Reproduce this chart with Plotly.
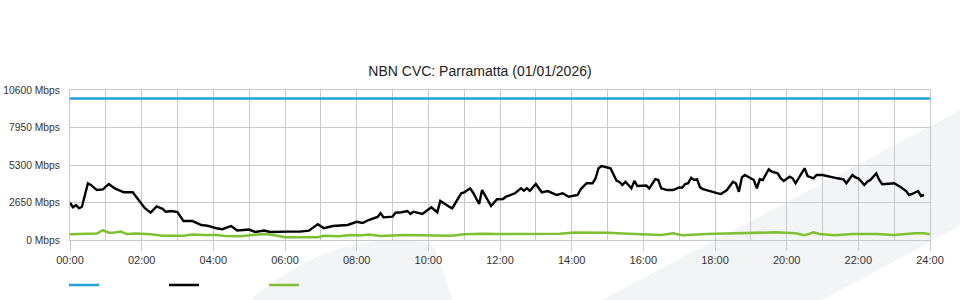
import plotly.graph_objects as go

# ---- data -------------------------------------------------------------
title_text = "NBN CVC: Parramatta (01/01/2026)"
y_ticks = [0, 2650, 5300, 7950, 10600]
x_tick_hours = list(range(0, 25, 2))
x_tick_labels = ["%02d:00" % h for h in x_tick_hours]

capacity_times = ["00:00", "24:00"]
capacity_values = [10000, 10000]

black_times = [
    "00:00", "00:05", "00:10", "00:15", "00:20", "00:30", "00:35", "00:45", "00:55", "01:05",
    "01:15", "01:25", "01:30", "01:45", "01:55", "02:05", "02:15", "02:25", "02:35", "02:40",
    "02:50", "03:00", "03:10", "03:25", "03:40", "03:50", "04:05", "04:15", "04:30", "04:40",
    "05:00", "05:10", "05:25", "05:35", "06:05", "06:25", "06:40", "06:55", "07:05", "07:20",
    "07:45", "08:00", "08:10", "08:20", "08:35", "08:40", "08:45", "09:00", "09:05", "09:15",
    "09:25", "09:30", "09:35", "09:50", "09:55", "10:05", "10:15", "10:20", "10:35", "10:40",
    "10:55", "11:00", "11:10", "11:15", "11:25", "11:30", "11:45", "11:55", "12:05", "12:10",
    "12:15", "12:25", "12:35", "12:40", "12:45", "12:50", "13:00", "13:10", "13:20", "13:35",
    "13:45", "13:55", "14:10", "14:15", "14:25", "14:35", "14:40", "14:45", "14:50", "15:00",
    "15:05", "15:15", "15:20", "15:25", "15:30", "15:40", "15:45", "15:50", "16:05", "16:10",
    "16:20", "16:25", "16:30", "16:40", "16:50", "17:00", "17:05", "17:10", "17:15", "17:20",
    "17:25", "17:30", "17:35", "17:40", "17:45", "17:55", "18:05", "18:10", "18:20", "18:30",
    "18:35", "18:40", "18:45", "18:50", "19:00", "19:05", "19:10", "19:15", "19:20", "19:30",
    "19:35", "19:45", "19:50", "19:55", "20:05", "20:10", "20:15", "20:20", "20:30", "20:35",
    "20:45", "20:50", "20:55", "21:00", "21:25", "21:35", "21:40", "21:50", "21:55", "22:00",
    "22:10", "22:15", "22:20", "22:30", "22:35", "22:40", "22:45", "22:55", "23:00", "23:10",
    "23:20", "23:25", "23:30", "23:40", "23:45", "23:50", "23:55", "24:00",
]
black_values = [
    2630, 2310, 2470, 2240, 2350, 4010, 3890, 3530, 3580, 3960,
    3650, 3480, 3370, 3370, 2830, 2260, 1930, 2380, 2200, 2000,
    2050, 1980, 1340, 1340, 1060, 1010, 830, 760, 990, 670,
    740, 570, 670, 570, 590, 590, 660, 1120, 830, 990,
    1060, 1290, 1200, 1410, 1630, 1890, 1600, 1650, 1930, 1960,
    2050, 1840, 2000, 1840, 2000, 2310, 1960, 2760, 2350, 2240,
    3300, 3370, 3650, 3340, 2540, 3530, 2400, 2880, 2900, 3060,
    3130, 3300, 3650, 3480, 3650, 3480, 3960, 3370, 3460, 3180,
    3300, 3060, 3180, 3580, 4010, 4010, 4360, 5070, 5230, 5140,
    5070, 4200, 4100, 3890, 4120, 3650, 4170, 3820, 3850, 3650,
    4300, 4240, 3650, 3530, 3530, 3720, 3700, 3960, 4010, 4400,
    4240, 4290, 3720, 3600, 3530, 3410, 3300, 3250, 3530, 4120,
    4010, 3410, 4430, 4590, 4360, 4240, 3650, 4290, 4240, 5000,
    4830, 4710, 4360, 4170, 4470, 4360, 4010, 4360, 5070, 4520,
    4360, 4590, 4590, 4590, 4360, 4290, 4010, 4590, 4430, 4360,
    3890, 4120, 4240, 4710, 4240, 3940, 3960, 3960, 4010, 3770,
    3460, 3180, 3250, 3460, 3110, 3180,
]

green_times = [
    "00:00", "00:30", "00:45", "00:55", "01:05", "01:15", "01:25", "01:35", "01:50", "02:15",
    "02:35", "03:10", "03:25", "03:45", "04:05", "04:20", "04:45", "05:05", "05:25", "05:40",
    "06:00", "06:55", "07:05", "07:30", "07:50", "08:05", "08:20", "08:40", "09:20", "10:10",
    "10:40", "11:00", "11:30", "12:00", "12:40", "13:10", "13:40", "14:05", "14:40", "15:00",
    "15:35", "15:45", "16:30", "16:50", "17:05", "17:45", "18:45", "19:40", "20:15", "20:30",
    "20:45", "20:55", "21:20", "21:50", "22:30", "23:00", "23:35", "23:50", "24:00",
]
green_values = [
    400, 420, 460, 690, 520, 530, 600, 420, 460, 400,
    300, 300, 390, 350, 350, 280, 260, 350, 420, 350,
    190, 190, 300, 270, 350, 320, 380, 280, 350, 320,
    300, 400, 440, 420, 420, 400, 440, 530, 530, 520,
    440, 420, 350, 470, 330, 420, 470, 540, 470, 330,
    540, 420, 330, 420, 420, 350, 470, 470, 400,
]

series_colors = ["#1fa0dc", "#000000", "#7dc031"]


def to_hours(times):
    out = []
    for t in times:
        h, m = t.split(":")
        out.append(int(h) + int(m) / 60.0)
    return out


# ---- figure -----------------------------------------------------------
fig = go.Figure()
fig.add_trace(go.Scatter(x=to_hours(capacity_times), y=capacity_values, mode="lines",
                         name="", line=dict(color=series_colors[0], width=2.5)))
fig.add_trace(go.Scatter(x=to_hours(black_times), y=black_values, mode="lines",
                         name="", line=dict(color=series_colors[1], width=2.4)))
fig.add_trace(go.Scatter(x=to_hours(green_times), y=green_values, mode="lines",
                         name="", line=dict(color=series_colors[2], width=2.5)))

grid_col = "#c9c9c9"
# faint background watermark (decoration)
wm = "#f3f4f6"
fig.add_shape(type="path", xref="paper", yref="paper", layer="below", line_width=0,
              fillcolor=wm,
              path="M 0.205,-0.42 C 0.25,-0.2 0.30,-0.03 0.364,0 C 0.395,0.01 0.415,0.0 0.425,-0.06 L 0.446,-0.42 Z")
fig.add_shape(type="path", xref="paper", yref="paper", layer="below", line_width=0,
              fillcolor=wm,
              path="M 0.612,-0.42 L 1.05,0.91 L 1.05,0.14 L 0.868,-0.42 Z")

fig.update_layout(
    width=960, height=300,
    margin=dict(l=70, r=30, t=90, b=60, autoexpand=False),
    paper_bgcolor="white",
    plot_bgcolor="rgba(0,0,0,0)",
    font=dict(family="Liberation Sans, Arial, sans-serif", size=11, color="#333333"),
    title=dict(text=title_text, x=0.5, xref="container", xanchor="center",
               y=1 - 71 / 300, yref="container", yanchor="middle",
               font=dict(size=14, color="#222222")),
    showlegend=True,
    legend=dict(orientation="h", x=64 / 960, xref="container", xanchor="left",
                y=15 / 300, yref="container", yanchor="middle",
                entrywidth=55, entrywidthmode="pixels",
                font=dict(size=11), bgcolor="rgba(0,0,0,0)", itemwidth=30),
    xaxis=dict(range=[0, 24], tickvals=x_tick_hours, ticktext=x_tick_labels,
               showgrid=True, gridcolor=grid_col, gridwidth=1,
               minor=dict(dtick=1, showgrid=True, gridcolor=grid_col, gridwidth=1, ticks=""),
               ticks="outside", ticklen=10, tickcolor=grid_col,
               showline=True, linecolor=grid_col, mirror=True, zeroline=False,
               automargin=False, fixedrange=True),
    yaxis=dict(range=[0, 10600], tickvals=y_ticks, ticktext=[f"{v} Mbps" for v in y_ticks],
               tickfont=dict(size=10.3),
               showgrid=True, gridcolor=grid_col, gridwidth=1,
               showline=True, linecolor=grid_col, mirror=True, zeroline=False,
               ticks="", ticklabelstandoff=7, automargin=False, fixedrange=True),
)

fig.write_html("out.html")
